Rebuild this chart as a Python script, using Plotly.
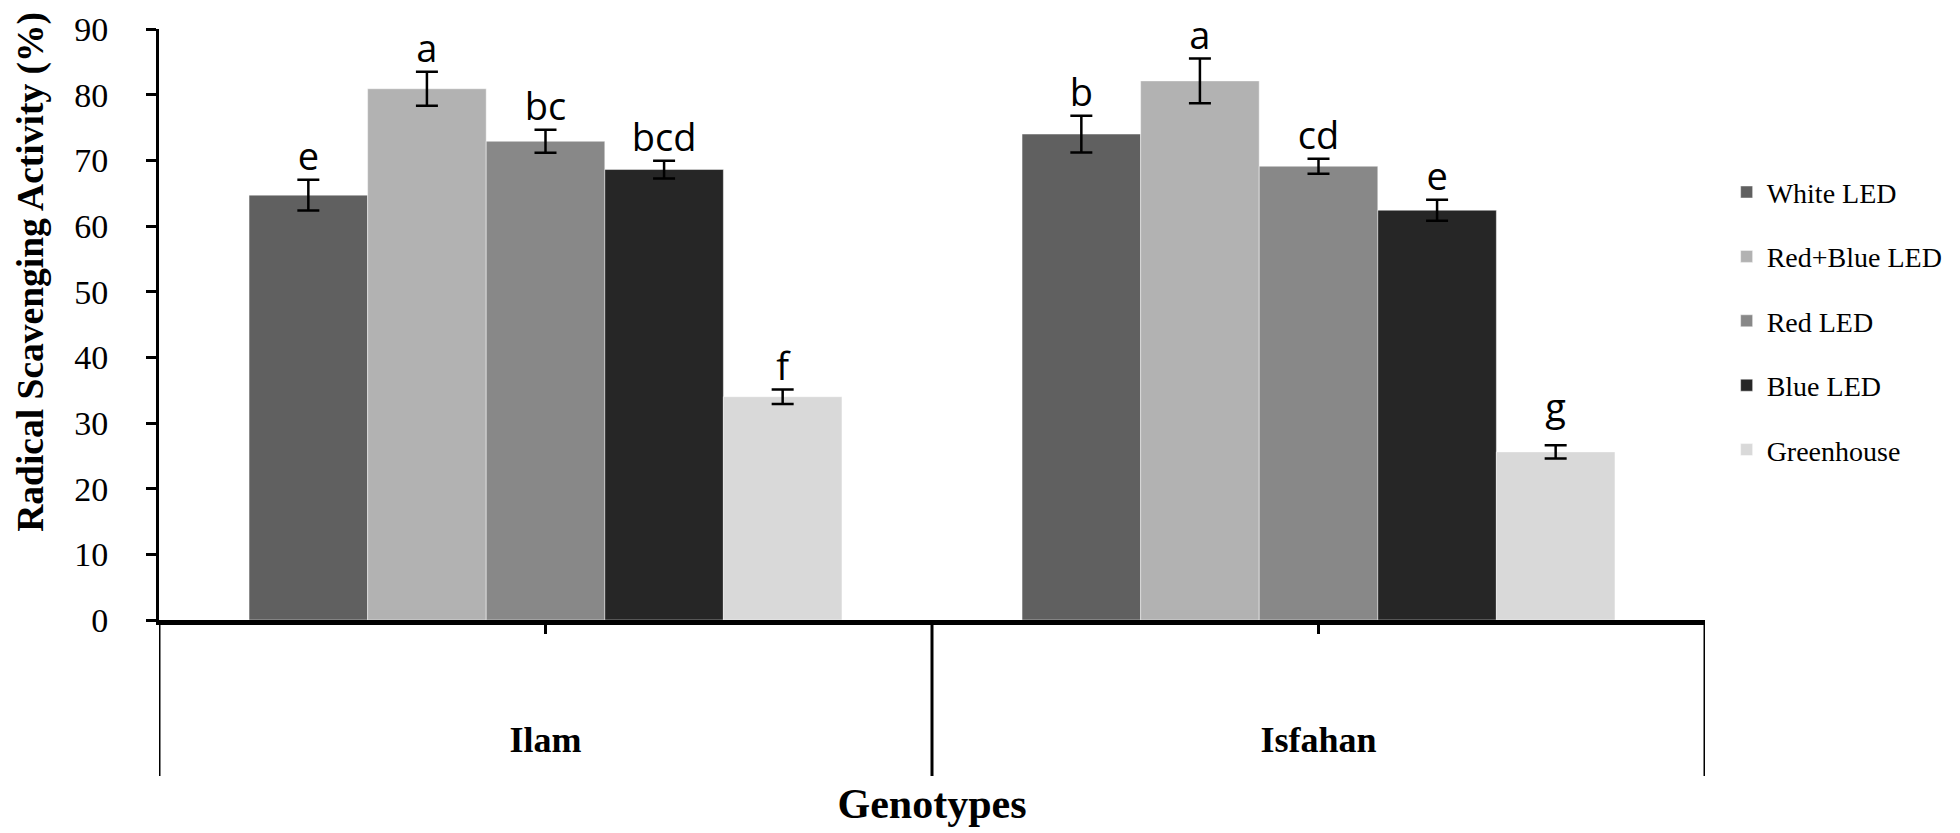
import plotly.graph_objects as go

# genotypes on the x axis, light treatments as series
genotypes = ["Ilam", "Isfahan"]
treatments = ["White LED", "Red+Blue LED", "Red LED", "Blue LED", "Greenhouse"]

white_led = [64.7, 74.0]
red_blue_led = [80.9, 82.1]
red_led = [72.9, 69.1]
blue_led = [68.6, 62.4]
greenhouse = [34.0, 25.6]

white_err = [2.35, 2.8]
red_blue_err = [2.6, 3.4]
red_err = [1.75, 1.15]
blue_err = [1.35, 1.6]
greenhouse_err = [1.1, 1.0]

white_letters = ["e", "b"]
red_blue_letters = ["a", "a"]
red_letters = ["bc", "cd"]
blue_letters = ["bcd", "e"]
greenhouse_letters = ["f", "g"]

colors = ["#606060", "#b2b2b2", "#888888", "#262626", "#d9d9d9"]

series = [
    (white_led, white_err, white_letters),
    (red_blue_led, red_blue_err, red_blue_letters),
    (red_led, red_err, red_letters),
    (blue_led, blue_err, blue_letters),
    (greenhouse, greenhouse_err, greenhouse_letters),
]

SERIF = "Times New Roman, Liberation Serif, serif"
GAP = 0.233

fig = go.Figure()

# bars with error bars
for name, color, (vals, errs, _) in zip(treatments, colors, series):
    fig.add_trace(
        go.Bar(
            name=name,
            x=genotypes,
            y=vals,
            marker=dict(color=color, line=dict(color="rgba(255,255,255,0.45)", width=1)),
            error_y=dict(type="data", array=errs, color="black", thickness=2.5, width=11),
            legendgroup=name,
        )
    )

# significance letters above the error bars
# (invisible marker pushes letters with descenders a bit higher)
for name, (vals, errs, letters) in zip(treatments, series):
    fig.add_trace(
        go.Scatter(
            x=genotypes,
            y=[v + e for v, e in zip(vals, errs)],
            mode="markers+text",
            marker=dict(size=[22 if "g" in t else 0 for t in letters], opacity=0),
            text=letters,
            textposition="top center",
            textfont=dict(family="Open Sans, sans-serif", size=38, color="black"),
            cliponaxis=False,
            showlegend=False,
            hoverinfo="skip",
            legendgroup=name,
        )
    )

# category divider lines below the x axis
for pos in [-0.5, 0.5, 1.5]:
    fig.add_shape(
        type="line", xref="x", yref="paper",
        x0=pos, x1=pos, y0=0, y1=-0.264,
        line=dict(color="black", width=3),
    )

fig.update_layout(
    width=1960,
    height=833,
    barmode="group",
    bargap=GAP,
    scattermode="group",
    scattergap=GAP,
    plot_bgcolor="white",
    paper_bgcolor="white",
    margin=dict(l=151, r=263, t=21, b=221, autoexpand=False),
    showlegend=True,
    legend=dict(
        x=1.014, y=0.766, xanchor="left", yanchor="top",
        font=dict(family=SERIF, size=28, color="black"),
        tracegroupgap=25,
        bgcolor="rgba(0,0,0,0)",
    ),
    annotations=[
        dict(
            text="<b>Radical Scavenging Activity (%)</b>",
            xref="paper", yref="paper",
            x=-0.0825, y=0.59,
            xanchor="center", yanchor="middle",
            textangle=-90, showarrow=False,
            font=dict(family=SERIF, size=37.5, color="black"),
        )
    ],
)

fig.update_yaxes(
    range=[0, 90],
    dtick=10,
    automargin=False,
    showgrid=False,
    zeroline=False,
    showline=True,
    linecolor="black",
    linewidth=3,
    ticks="outside",
    ticklen=10,
    tickwidth=2.5,
    tickcolor="black",
    ticklabelstandoff=31,
    tickfont=dict(family=SERIF, size=34, color="black"),
)

fig.update_xaxes(
    range=[-0.5, 1.5],
    automargin=False,
    showgrid=False,
    zeroline=False,
    showline=True,
    linecolor="black",
    linewidth=5,
    ticks="outside",
    ticklen=9,
    tickwidth=2.5,
    tickcolor="black",
    ticklabelstandoff=75,
    tickfont=dict(family=SERIF, size=36, color="black", weight="bold"),
    title=dict(
        text="Genotypes",
        font=dict(family=SERIF, size=42, color="black", weight="bold"),
        standoff=31,
    ),
)

fig.write_html("out.html")
